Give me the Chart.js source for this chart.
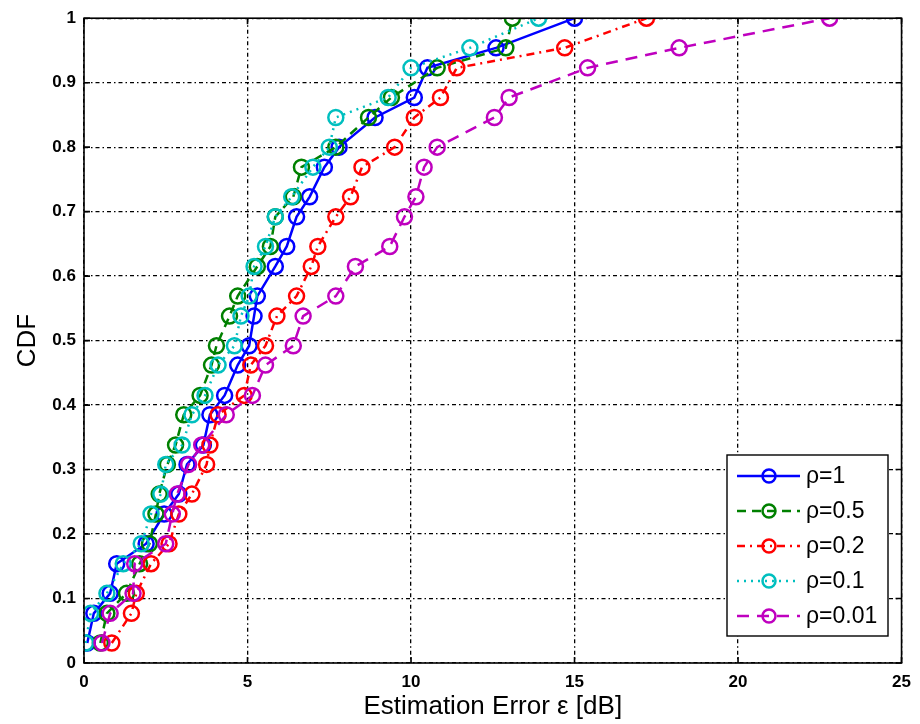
<!DOCTYPE html>
<html>
<head>
<meta charset="utf-8">
<script src="https://cdn.jsdelivr.net/npm/chart.js@4/dist/chart.umd.min.js"></script>
<style>
html,body{margin:0;padding:0;background:#fff;}
#wrap{width:920px;height:724px;position:relative;}
</style>
</head>
<body>
<div id="wrap"><canvas id="c" width="920" height="724"></canvas></div>
<script>
// ---- data ----
const cdfLevels = [0.031,0.077,0.108,0.154,0.185,0.231,0.262,0.308,0.338,0.385,0.415,0.462,0.492,0.538,0.569,0.615,0.646,0.692,0.723,0.769,0.800,0.846,0.877,0.923,0.954,1.0];
const errRho1   = [0.1,0.3,0.8,1.0,1.9,2.45,2.9,3.15,3.65,3.85,4.3,4.7,5.05,5.2,5.3,5.85,6.2,6.5,6.9,7.35,7.8,8.9,10.1,10.5,12.6,15.0];
const errRho05  = [0.5,0.7,1.3,1.7,2.0,2.2,2.3,2.55,2.8,3.05,3.55,3.9,4.05,4.45,4.7,5.3,5.7,5.85,6.4,6.65,7.7,8.7,9.4,10.8,12.9,13.1];
const errRho02  = [0.85,1.45,1.6,2.05,2.6,2.9,3.3,3.75,3.85,4.1,4.9,5.1,5.55,5.9,6.5,6.95,7.15,7.7,8.15,8.5,9.5,10.1,10.9,11.4,14.7,17.2];
const errRho01  = [0.05,0.2,0.7,1.2,1.75,2.05,2.35,2.5,3.0,3.3,3.7,4.1,4.6,4.8,5.05,5.2,5.55,5.85,6.35,7.0,7.5,7.7,9.3,10.0,11.8,13.9];
const errRho001 = [0.55,0.8,1.5,1.55,2.5,2.7,2.85,3.2,3.6,4.35,5.15,5.55,6.4,6.7,7.7,8.3,9.35,9.8,10.15,10.4,10.8,12.55,13.0,15.4,18.2,22.8];
const seriesLabels = ['\u03C1=1','\u03C1=0.5','\u03C1=0.2','\u03C1=0.1','\u03C1=0.01'];
const xTicks = [0,5,10,15,20,25];
const yTicks = [0,0.1,0.2,0.3,0.4,0.5,0.6,0.7,0.8,0.9,1];

const pts = arr => arr.map((x,i)=>({x:x,y:cdfLevels[i]}));
const styles = [
  {color:'#0000ff', dash:[], order:5},
  {color:'#008000', dash:[9,6], order:4},
  {color:'#ff0000', dash:[8,5,2,5], order:3},
  {color:'#00bfbf', dash:[2,5], order:2},
  {color:'#bf00bf', dash:[12,8], order:1}
];
const allSeries = [errRho1, errRho05, errRho02, errRho01, errRho001];
const datasets = allSeries.map((s,i)=>({
  label: seriesLabels[i],
  data: pts(s),
  showLine: true,
  borderColor: styles[i].color,
  borderWidth: 2.5,
  borderDash: styles[i].dash,
  pointRadius: 7.5,
  pointBorderWidth: 2.5,
  pointBorderColor: styles[i].color,
  pointBackgroundColor: 'rgba(0,0,0,0)',
  pointStyle: 'circle',
  order: styles[i].order,
  tension: 0
}));

const FONT = '"Liberation Sans", Arial, Helvetica, sans-serif';

const frame = {
  id: 'frame',
  afterDatasetsDraw(chart){
    const {ctx, chartArea:a, scales} = chart;
    ctx.save();
    ctx.strokeStyle = '#000';
    ctx.lineWidth = 1.6;
    ctx.setLineDash([]);
    ctx.strokeRect(a.left, a.top, a.right-a.left, a.bottom-a.top);
    const tl = 6;
    xTicks.forEach(v=>{
      const px = scales.x.getPixelForValue(v);
      ctx.beginPath();
      ctx.moveTo(px,a.bottom); ctx.lineTo(px,a.bottom-tl);
      ctx.moveTo(px,a.top); ctx.lineTo(px,a.top+tl);
      ctx.stroke();
    });
    yTicks.forEach(v=>{
      const py = scales.y.getPixelForValue(v);
      ctx.beginPath();
      ctx.moveTo(a.left,py); ctx.lineTo(a.left+tl,py);
      ctx.moveTo(a.right,py); ctx.lineTo(a.right-tl,py);
      ctx.stroke();
    });
    // legend
    const lx = 727, ly = 455, lw = 161, lh = 181;
    ctx.fillStyle = '#fff';
    ctx.fillRect(lx,ly,lw,lh);
    ctx.lineWidth = 1.4;
    ctx.strokeStyle = '#000';
    ctx.strokeRect(lx,ly,lw,lh);
    chart.data.datasets.forEach((ds,i)=>{
      const y = ly + 21 + i*35;
      ctx.strokeStyle = ds.borderColor;
      ctx.lineWidth = 2.5;
      ctx.setLineDash(ds.borderDash);
      ctx.beginPath(); ctx.moveTo(737,y); ctx.lineTo(800,y); ctx.stroke();
      ctx.setLineDash([]);
      ctx.beginPath(); ctx.arc(769,y,6.5,0,Math.PI*2); ctx.stroke();
      ctx.fillStyle = '#000';
      ctx.font = '23px ' + FONT;
      ctx.textBaseline = 'middle';
      ctx.textAlign = 'left';
      ctx.fillText(ds.label, 806, y+1);
    });
    ctx.restore();
  }
};

new Chart(document.getElementById('c'), {
  type: 'scatter',
  data: { datasets },
  options: {
    responsive: false,
    animation: false,
    events: [],
    layout: { padding: {top:18, right:14, left:0, bottom:0} },
    plugins: { legend:{display:false}, tooltip:{enabled:false} },
    scales: {
      x: {
        type:'linear', min:0, max:25,
        afterBuildTicks: s => { s.ticks = xTicks.map(v=>({value:v})); },
        afterFit: s => { s.height = 61; },
        grid: { color:'#000', lineWidth:1.3, drawTicks:false },
        border: { display:false, dash:[4,3,1.5,3] },
        ticks: { color:'#000', padding:9, font:{family:FONT, size:17, weight:'bold'}, maxRotation:0 },
        title: { display:true, text:'Estimation Error \u03B5 [dB]', color:'#000', font:{family:FONT, size:26}, padding:{top:0,bottom:2} }
      },
      y: {
        type:'linear', min:0, max:1,
        afterBuildTicks: s => { s.ticks = yTicks.map(v=>({value:v})); },
        afterFit: s => { s.width = 84; },
        grid: { color:'#000', lineWidth:1.3, drawTicks:false },
        border: { display:false, dash:[4,3,1.5,3] },
        ticks: { color:'#000', padding:8, font:{family:FONT, size:17, weight:'bold'},
                 callback: v => String(Number(v.toFixed(1))) },
        title: { display:true, text:'CDF', color:'#000', font:{family:FONT, size:26}, padding:{top:12,bottom:0} }
      }
    }
  },
  plugins: [frame]
});
</script>
</body>
</html>
